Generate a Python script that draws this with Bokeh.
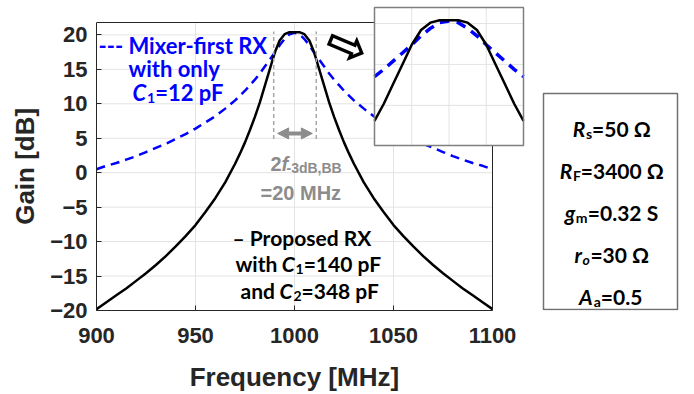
import math
from bokeh.plotting import figure
from bokeh.models import Range1d, FixedTicker, Label, Arrow, NormalHead
from bokeh.embed import file_html
from bokeh.resources import INLINE

# ---------------- data ----------------
freq_mhz = [900, 905, 910, 915, 920, 925, 930, 935, 940, 945, 950, 955, 960, 965, 970,
            972.5, 975, 977.5, 980, 982.5, 985, 987.5, 990, 992.5, 995, 997.5, 1000,
            1002.5, 1005, 1007.5, 1010, 1012.5, 1015, 1017.5, 1020, 1022.5, 1025, 1027.5,
            1030, 1035, 1040, 1045, 1050, 1055, 1060, 1065, 1070, 1075, 1080, 1085, 1090, 1095, 1100]

gain_mixer_first = [0.5, 1.0, 1.4, 1.9, 2.4, 3.0, 3.6, 4.2, 4.9, 5.6, 6.4, 7.3, 8.2, 9.3, 10.5,
                    11.2, 11.9, 12.7, 13.5, 14.4, 15.4, 16.4, 17.4, 18.5, 19.4, 20.1, 20.3,
                    20.1, 19.4, 18.5, 17.4, 16.4, 15.4, 14.4, 13.5, 12.7, 11.9, 11.2,
                    10.5, 9.3, 8.2, 7.3, 6.4, 5.6, 4.9, 4.2, 3.6, 3.0, 2.4, 1.9, 1.4, 1.0, 0.5]

gain_proposed = [-19.8, -18.8, -17.8, -16.8, -15.7, -14.6, -13.4, -12.1, -10.7, -9.2, -7.6, -5.7, -3.7, -1.4, 1.3,
                 2.8, 4.4, 6.2, 8.1, 10.2, 12.6, 15.0, 17.4, 19.2, 20.1, 20.4, 20.4,
                 20.4, 20.1, 19.2, 17.4, 15.0, 12.6, 10.2, 8.1, 6.2, 4.4, 2.8,
                 1.3, -1.4, -3.7, -5.7, -7.6, -9.2, -10.7, -12.1, -13.4, -14.6, -15.7, -16.8, -17.8, -18.8, -19.8]

x_ticks = [900, 950, 1000, 1050, 1100]
y_ticks = [-20, -15, -10, -5, 0, 5, 10, 15, 20]
inset_x_ticks = [990, 1000, 1010]
inset_y_ticks = [10, 15, 20]
inset_xr = (980, 1020)
inset_yr = (5.1, 21.95)

bw_edges = [989.5, 1011.0]        # -3 dB marker lines
bw_marker_span = [4.9, 20.5]      # vertical extent of marker lines (dB)
bw_arrow = [991.5, 1009.0, 5.7]   # arrow x start, x end, y

# ---------------- layout helpers (page pixels) ----------------
W, H = 694, 394
FX0, FX1, FY0, FY1 = 96, 492, 22, 310      # main axes box
XR = (900, 1100)
YR = (-20, 21.8)
KX = (XR[1] - XR[0]) / (FX1 - FX0)
KY = (YR[1] - YR[0]) / (FY1 - FY0)
NBSP = "\u00a0"


def conv_main(cx, cy):
    return XR[0] + (cx - FX0) * KX, YR[0] + (FY1 - cy) * KY


LATO = {' ': 0.19, '-': 0.33, '–': 0.55, '=': 0.58, '.': 0.22, ',': 0.22,
        'A': 0.70, 'B': 0.66, 'C': 0.66, 'F': 0.56, 'M': 0.88, 'P': 0.61, 'R': 0.63, 'S': 0.53, 'X': 0.67,
        'a': 0.51, 'd': 0.58, 'e': 0.53, 'f': 0.34, 'g': 0.52, 'h': 0.58, 'i': 0.26, 'l': 0.26,
        'm': 0.87, 'n': 0.58, 'o': 0.57, 'p': 0.58, 'r': 0.38, 's': 0.43, 't': 0.37, 'w': 0.80,
        'x': 0.53, 'y': 0.53, 'Ω': 0.74}
for d in "0123456789":
    LATO[d] = 0.58
ARIAL = {'2': 0.556, 'f': 0.333, '-': 0.333, '3': 0.556, 'd': 0.611, 'B': 0.722, ',': 0.278,
         '=': 0.584, ' ': 0.278, '0': 0.556, 'M': 0.833, 'H': 0.722, 'z': 0.5}


def text_w(s, size, table):
    return sum(table.get(ch, 0.55) for ch in s) * size


def label(fig, cx, cy, text, size, style, color, font, align="left", baseline="alphabetic", angle=0.0):
    x, y = conv_main(cx, cy)
    fig.add_layout(Label(x=x, y=y, text=text, text_font=font, text_font_size=f"{size}px",
                         text_font_style=style, text_color=color, text_align=align,
                         text_baseline=baseline, angle=angle))


def rich(fig, x0, y0, parts, color, font, table):
    """parts: (text, size, style, dy, x_abs or None)"""
    x = x0
    for text, size, style, dy, xa in parts:
        if xa is not None:
            x = xa
        label(fig, x, y0 + dy, text, size, style, color, font)
        x += text_w(text, size, table)


# ---------------- figure (frame covers axes box, inset and parameter box) ----------------
x_frame = (XR[0], XR[1] + (W - FX1) * KX)
y_frame = (YR[0], YR[1] + FY0 * KY)
p = figure(width=W, height=H, x_range=Range1d(*x_frame), y_range=Range1d(*y_frame),
           output_backend="svg", toolbar_location=None, title=None,
           min_border_left=FX0, min_border_right=0, min_border_top=0, min_border_bottom=H - FY1)
p.background_fill_color = "white"
p.border_fill_color = "white"
p.outline_line_color = None
p.grid.visible = False

p.xaxis.ticker = FixedTicker(ticks=x_ticks)
p.yaxis.ticker = FixedTicker(ticks=y_ticks)
p.xaxis.bounds = XR
p.yaxis.bounds = YR
for ax in (p.xaxis[0], p.yaxis[0]):
    ax.major_label_text_font = "Liberation Sans"
    ax.major_label_text_font_style = "bold"
    ax.major_label_text_font_size = "22px"
    ax.major_label_text_color = "#262626"
    ax.axis_label_text_font = "Liberation Sans"
    ax.axis_label_text_font_style = "bold"
    ax.axis_label_text_font_size = "26px"
    ax.axis_label_text_color = "#262626"
    ax.axis_line_color = "#262626"
    ax.axis_line_width = 1
    ax.major_tick_line_color = "#262626"
    ax.major_tick_in = 5
    ax.major_tick_out = 0
    ax.minor_tick_line_color = None
p.xaxis.major_label_standoff = 17
p.yaxis.major_label_standoff = 9
# the axis panels span the whole frame; trailing no-break spaces recentre the titles on the axes box
p.xaxis.axis_label = "Frequency [MHz]" + NBSP * 28
p.yaxis.axis_label = "Gain [dB]" + NBSP * 3
p.xaxis.axis_label_standoff = 16
p.yaxis.axis_label_standoff = 7

# grid
grid_c = "#e3e3e3"
p.segment(x0=x_ticks, y0=[YR[0]] * len(x_ticks), x1=x_ticks, y1=[YR[1]] * len(x_ticks),
          line_color=grid_c, line_width=1)
p.segment(x0=[XR[0]] * len(y_ticks), y0=y_ticks, x1=[XR[1]] * len(y_ticks), y1=y_ticks,
          line_color=grid_c, line_width=1)

# curves
p.line(freq_mhz, gain_mixer_first, line_color="#0000ff", line_width=2.5, line_dash="9 6")
p.line(freq_mhz, gain_proposed, line_color="black", line_width=2.5)

# top and right edges of the axes box
p.segment(x0=[XR[0], XR[1]], y0=[YR[1], YR[0]], x1=[XR[1], XR[1]], y1=[YR[1], YR[1]],
          line_color="#262626", line_width=1)

# -3 dB bandwidth markers
p.segment(x0=bw_edges, y0=[bw_marker_span[0]] * 2, x1=bw_edges, y1=[bw_marker_span[1]] * 2,
          line_color="#a6a6a6", line_width=1.5, line_dash="4 3")
grey = "#8c8c8c"
p.add_layout(Arrow(start=NormalHead(size=11, fill_color=grey, line_color=grey),
                   end=NormalHead(size=11, fill_color=grey, line_color=grey),
                   x_start=bw_arrow[0], x_end=bw_arrow[1], y_start=bw_arrow[2], y_end=bw_arrow[2],
                   line_color=grey, line_width=4))
rich(p, 270, 163, [("2", 20, "bold", 0, None), ("f", 20, "bold italic", 0, None),
                   ("-3dB,BB", 14, "bold", 4, 286)], grey, "Liberation Sans", ARIAL)
rich(p, 260, 192, [("=20 MHz", 20, "bold", 0, None)], grey, "Liberation Sans", ARIAL)

# legend-like texts
blue = "#0000ff"
rich(p, 98, 45, [("--- Mixer-first RX", 22, "bold", 0, None)], blue, "Lato", LATO)
rich(p, 128, 68, [("with only", 22, "bold", 0, None)], blue, "Lato", LATO)
rich(p, 132, 92, [("C", 22, "bold italic", 0, None), ("1", 14, "bold", 5, None),
                  ("=12 pF", 22, "bold", 0, None)], blue, "Lato", LATO)

rich(p, 232, 237, [("– Proposed RX", 21, "bold", 0, None)], "black", "Lato", LATO)
rich(p, 235, 263, [("with ", 21, "bold", 0, None), ("C", 21, "bold italic", 0, None),
                   ("1", 14, "bold", 5, None), ("=140 pF", 21, "bold", 0, None)],
     "black", "Lato", LATO)
rich(p, 240, 290, [("and ", 21, "bold", 0, None), ("C", 21, "bold italic", 0, None),
                   ("2", 14, "bold", 5, None), ("=348 pF", 21, "bold", 0, None)],
     "black", "Lato", LATO)

# hollow arrow pointing to inset
label(p, 347, 45, "⇨", 50, "bold", "black", "DejaVu Sans", align="center", baseline="middle", angle=-0.4)

# ---------------- inset (sub-coordinates of the same figure) ----------------
ix0, iy0 = conv_main(374, 145)
ix1, iy1 = conv_main(523, 7)
ins = p.subplot(x_source=Range1d(*inset_xr), y_source=Range1d(*inset_yr),
                x_target=Range1d(ix0, ix1), y_target=Range1d(iy0, iy1))
ins.quad(left=[inset_xr[0]], right=[inset_xr[1]], bottom=[inset_yr[0]], top=[inset_yr[1]],
         fill_color="white", line_color=None)
ins.segment(x0=inset_x_ticks, y0=[inset_yr[0]] * 3, x1=inset_x_ticks, y1=[inset_yr[1]] * 3,
            line_color=grid_c, line_width=1)
ins.segment(x0=[inset_xr[0]] * 3, y0=inset_y_ticks, x1=[inset_xr[1]] * 3, y1=inset_y_ticks,
            line_color=grid_c, line_width=1)
sel = [i for i, f in enumerate(freq_mhz) if inset_xr[0] <= f <= inset_xr[1]]
ins_f = [freq_mhz[i] for i in sel]
ins.line(ins_f, [gain_mixer_first[i] for i in sel], line_color="#0000ff", line_width=3.5, line_dash="10 7")
ins.line(ins_f, [gain_proposed[i] for i in sel], line_color="black", line_width=2.5)
ins.quad(left=[inset_xr[0]], right=[inset_xr[1]], bottom=[inset_yr[0]], top=[inset_yr[1]],
         fill_color=None, line_color="#7f7f7f", line_width=1.5)

# ---------------- parameter box ----------------
bx0, by0 = conv_main(543, 309)
bx1, by1 = conv_main(677, 93)
p.quad(left=[bx0], right=[bx1], bottom=[by0], top=[by1], fill_color="white",
       line_color="#707070", line_width=1.5)

box_lines = [
    [("R", 21, "bold italic", 0, None), ("s", 14, "bold", 5, None), ("=50 Ω", 21, "bold", 0, None)],
    [("R", 21, "bold italic", 0, None), ("F", 14, "bold", 5, None), ("=3400 Ω", 21, "bold", 0, None)],
    [("g", 21, "bold italic", 0, None), ("m", 14, "bold", 5, None), ("=0.32 S", 21, "bold", 0, None)],
    [("r", 21, "bold italic", 0, None), ("o", 14, "bold italic", 5, None), ("=30 Ω", 21, "bold", 0, None)],
    [("A", 21, "bold italic", 0, None), ("a", 14, "bold", 5, None), ("=0.5", 21, "bold", 0, None)],
]
for i, parts in enumerate(box_lines):
    total = sum(text_w(t, s, LATO) for t, s, _, _, _ in parts)
    rich(p, 610 - total / 2, 128 + 42 * i, parts, "black", "Lato", LATO)

open("out.html", "w").write(file_html(p, INLINE))
